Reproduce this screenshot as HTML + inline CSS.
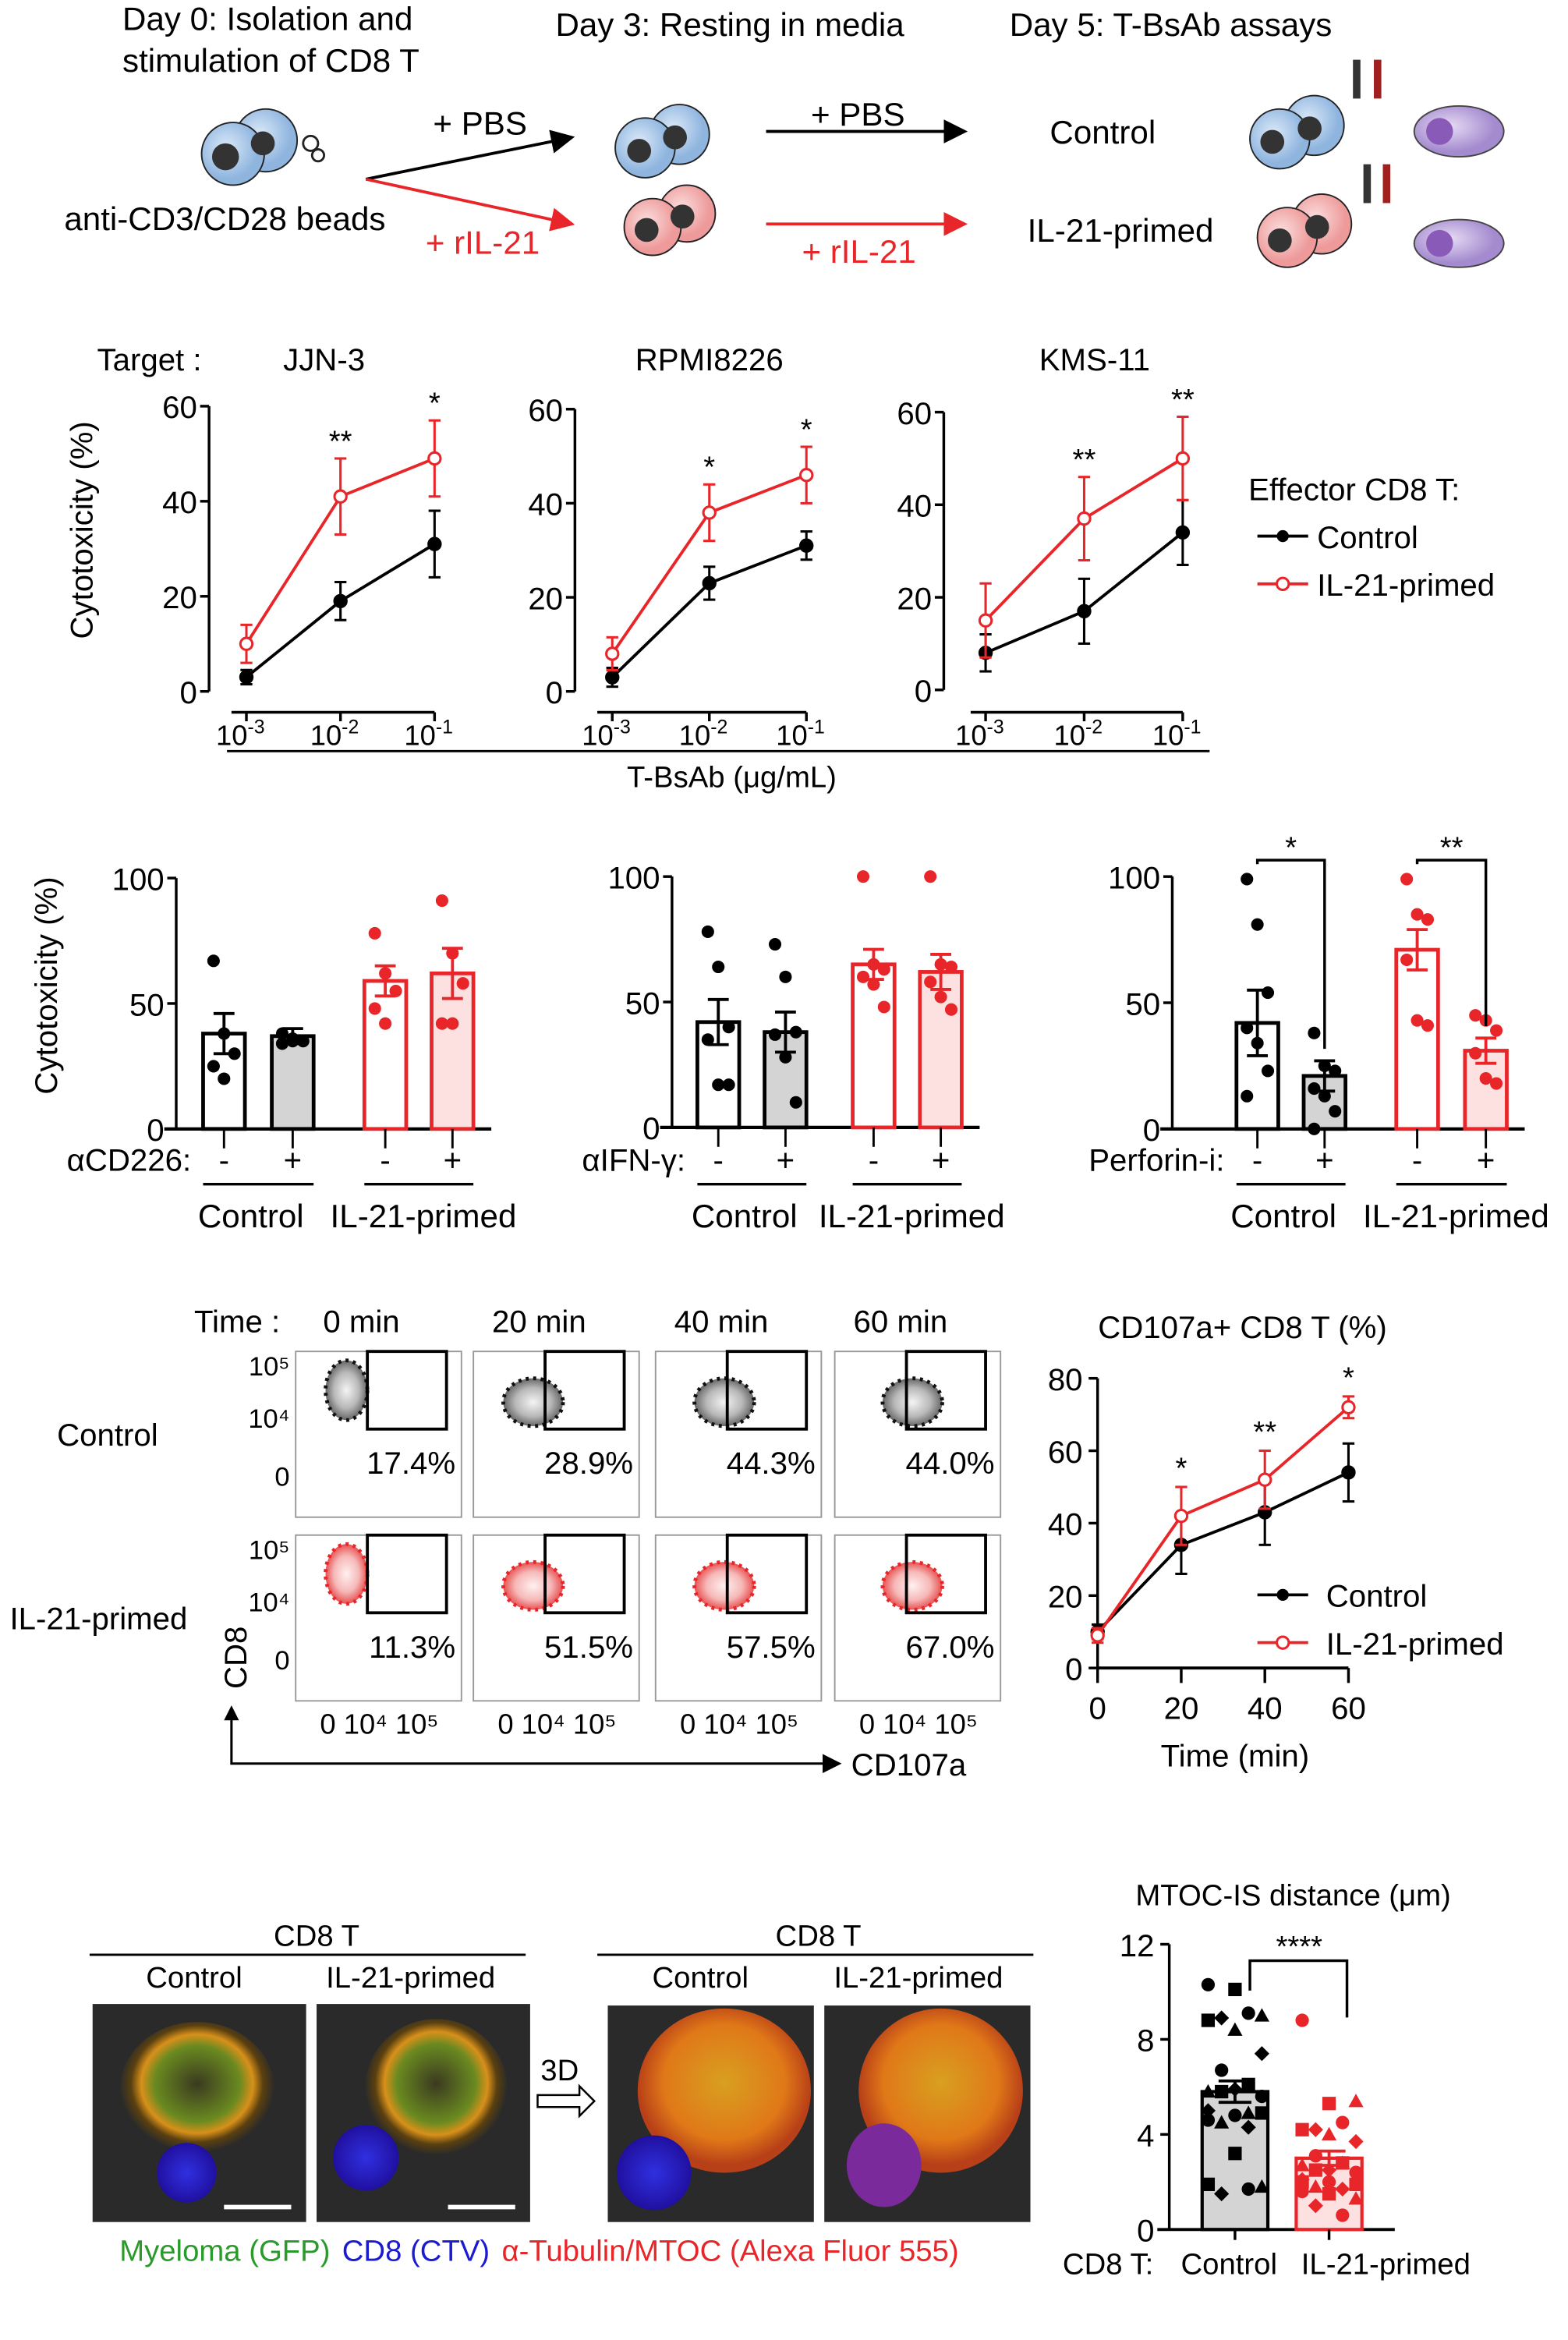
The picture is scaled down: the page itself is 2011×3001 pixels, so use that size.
<!DOCTYPE html>
<html><head><meta charset="utf-8">
<style>
html,body{margin:0;padding:0;background:#fff;}
svg{display:block;font-family:"Liberation Sans",Arial,sans-serif;}
</style></head>
<body>
<svg id="fig" width="2011" height="3001" viewBox="0 0 1050 1567" preserveAspectRatio="none" xmlns="http://www.w3.org/2000/svg">
<defs>
<marker id="ab" markerWidth="8" markerHeight="8" refX="7" refY="4" orient="auto"><path d="M0,0 L8,4 L0,8 z" fill="#000"/></marker>
<marker id="ar" markerWidth="8" markerHeight="8" refX="7" refY="4" orient="auto"><path d="M0,0 L8,4 L0,8 z" fill="#e8262a"/></marker>
<radialGradient id="cellB" cx="40%" cy="40%"><stop offset="0" stop-color="#dbe9f8"/><stop offset="1" stop-color="#8fb5df"/></radialGradient>
<radialGradient id="cellR" cx="40%" cy="40%"><stop offset="0" stop-color="#fbdede"/><stop offset="1" stop-color="#ee9a9a"/></radialGradient>
<radialGradient id="cellP" cx="40%" cy="40%"><stop offset="0" stop-color="#e6daf3"/><stop offset="1" stop-color="#a48bcf"/></radialGradient>
<radialGradient id="flowK" cx="50%" cy="50%"><stop offset="0" stop-color="#f4f4f4"/><stop offset="0.6" stop-color="#b8b8b8"/><stop offset="1" stop-color="#666"/></radialGradient>
<radialGradient id="flowR" cx="50%" cy="50%"><stop offset="0" stop-color="#fff0f0"/><stop offset="0.6" stop-color="#f6b8b8"/><stop offset="1" stop-color="#e85050"/></radialGradient>
<radialGradient id="cellImg" cx="50%" cy="45%"><stop offset="0" stop-color="#3a3a20"/><stop offset="0.55" stop-color="#6a8a20"/><stop offset="0.72" stop-color="#d8901a"/><stop offset="0.85" stop-color="#5a4010"/><stop offset="1" stop-color="#2a2a2a"/></radialGradient>
<radialGradient id="cell3d" cx="50%" cy="45%"><stop offset="0" stop-color="#d8a020"/><stop offset="0.7" stop-color="#e07818"/><stop offset="1" stop-color="#b84018"/></radialGradient>
<radialGradient id="blue" cx="50%" cy="50%"><stop offset="0" stop-color="#3030e0"/><stop offset="1" stop-color="#2010a0"/></radialGradient>
</defs>

<g id="schematic" font-size="22">
<text x="82" y="20">Day 0: Isolation and</text>
<text x="82" y="48">stimulation of CD8 T</text>
<text x="372" y="24">Day 3: Resting in media</text>
<text x="676" y="24">Day 5: T-BsAb assays</text>
<text x="43" y="154">anti-CD3/CD28 beads</text>
<g>
<circle cx="178" cy="94" r="21" fill="url(#cellB)" stroke="#222"/><circle cx="156" cy="103" r="21" fill="url(#cellB)" stroke="#222"/>
<circle cx="151" cy="105" r="9" fill="#333"/><circle cx="176" cy="96" r="8" fill="#333"/>
<circle cx="208" cy="96" r="5" fill="#fff" stroke="#222" stroke-width="1.5"/><circle cx="213" cy="104" r="4" fill="#fff" stroke="#222" stroke-width="1.5"/>
</g>
<line x1="245" y1="120" x2="383" y2="92" stroke="#000" stroke-width="2" marker-end="url(#ab)"/>
<line x1="245" y1="120" x2="383" y2="150" stroke="#e8262a" stroke-width="2" marker-end="url(#ar)"/>
<text x="290" y="90">+ PBS</text>
<text x="285" y="170" fill="#e8262a">+ rIL-21</text>
<g>
<circle cx="455" cy="90" r="20" fill="url(#cellB)" stroke="#222"/><circle cx="432" cy="99" r="20" fill="url(#cellB)" stroke="#222"/>
<circle cx="428" cy="101" r="8" fill="#333"/><circle cx="452" cy="92" r="8" fill="#333"/>
</g>
<g>
<circle cx="460" cy="143" r="19" fill="url(#cellR)" stroke="#222"/><circle cx="437" cy="152" r="19" fill="url(#cellR)" stroke="#222"/>
<circle cx="433" cy="154" r="8" fill="#333"/><circle cx="457" cy="145" r="8" fill="#333"/>
</g>
<line x1="513" y1="88" x2="646" y2="88" stroke="#000" stroke-width="2" marker-end="url(#ab)"/>
<line x1="513" y1="150" x2="646" y2="150" stroke="#e8262a" stroke-width="2" marker-end="url(#ar)"/>
<text x="543" y="84">+ PBS</text>
<text x="537" y="176" fill="#e8262a">+ rIL-21</text>
<text x="703" y="96">Control</text>
<text x="688" y="162">IL-21-primed</text>
<g>
<circle cx="880" cy="84" r="20" fill="url(#cellB)" stroke="#222"/><circle cx="857" cy="93" r="20" fill="url(#cellB)" stroke="#222"/>
<circle cx="852" cy="95" r="8" fill="#333"/><circle cx="877" cy="86" r="8" fill="#333"/>
<rect x="906" y="40" width="5" height="26" fill="#333"/><rect x="920" y="40" width="5" height="26" fill="#a02020"/>
<ellipse cx="977" cy="88" rx="30" ry="17" fill="url(#cellP)" stroke="#444"/><circle cx="964" cy="88" r="9" fill="#8a5ab8"/>
</g>
<g>
<circle cx="885" cy="150" r="20" fill="url(#cellR)" stroke="#222"/><circle cx="862" cy="159" r="20" fill="url(#cellR)" stroke="#222"/>
<circle cx="857" cy="161" r="8" fill="#333"/><circle cx="882" cy="152" r="8" fill="#333"/>
<rect x="913" y="110" width="5" height="26" fill="#333"/><rect x="926" y="110" width="5" height="26" fill="#a02020"/>
<ellipse cx="977" cy="163" rx="30" ry="16" fill="url(#cellP)" stroke="#444"/><circle cx="964" cy="163" r="9" fill="#8a5ab8"/>
</g>
</g>

<g id="lines"></g>
<g id="bars"></g>
<g id="flow"></g>
<g id="cd107"></g>

<g font-size="20">
<text x="212" y="1303" text-anchor="middle">CD8 T</text>
<line x1="60" y1="1309" x2="352" y2="1309" stroke="#000" stroke-width="1.5"/>
<text x="130" y="1331" text-anchor="middle">Control</text>
<text x="275" y="1331" text-anchor="middle">IL-21-primed</text>
<text x="548" y="1303" text-anchor="middle">CD8 T</text>
<line x1="400" y1="1309" x2="692" y2="1309" stroke="#000" stroke-width="1.5"/>
<text x="469" y="1331" text-anchor="middle">Control</text>
<text x="615" y="1331" text-anchor="middle">IL-21-primed</text>
<g><rect x="62" y="1342" width="143" height="146" fill="#2a2a2a"/><ellipse cx="132" cy="1400" rx="52" ry="46" fill="url(#cellImg)"/><circle cx="125" cy="1455" r="20" fill="url(#blue)"/><line x1="150" y1="1478" x2="195" y2="1478" stroke="#fff" stroke-width="3"/></g>
<g><rect x="212" y="1342" width="143" height="146" fill="#2a2a2a"/><ellipse cx="292" cy="1400" rx="48" ry="48" fill="url(#cellImg)"/><circle cx="245" cy="1445" r="22" fill="url(#blue)"/><line x1="300" y1="1478" x2="345" y2="1478" stroke="#fff" stroke-width="3"/></g>
<text x="362" y="1393">3D</text>
<path d="M360,1403 h28 v-6 l10,10 l-10,10 v-6 h-28 z" fill="#fff" stroke="#000" stroke-width="1.3"/>
<g><rect x="407" y="1343" width="138" height="145" fill="#2a2a2a"/><ellipse cx="485" cy="1400" rx="58" ry="55" fill="url(#cell3d)"/><circle cx="438" cy="1455" r="25" fill="url(#blue)"/></g>
<g><rect x="552" y="1343" width="138" height="145" fill="#2a2a2a"/><ellipse cx="630" cy="1400" rx="55" ry="55" fill="url(#cell3d)"/><ellipse cx="592" cy="1450" rx="25" ry="28" fill="#7a2a9a"/></g>
<text y="1514" font-size="20"><tspan x="80" fill="#2a9a2a">Myeloma (GFP)</tspan><tspan dx="8" fill="#1a1ad0">CD8 (CTV)</tspan><tspan dx="8" fill="#e8262a">α-Tubulin/MTOC (Alexa Fluor 555)</tspan></text>
</g>
<g id="mtoc"></g>
</svg>

<script>
const NS="http://www.w3.org/2000/svg";
function mk(parent,tag,attrs,text){const e=document.createElementNS(NS,tag);for(const k in attrs)e.setAttribute(k,attrs[k]);if(text!==undefined)e.textContent=text;parent.appendChild(e);return e;}
const RED="#e8262a";

const doseLabels=["-3","-2","-1"];
const targets=["JJN-3","RPMI8226","KMS-11"];
const ctrlMean=[[3,19,31],[3,23,31],[8,17,34]];
const ctrlErr=[[1.5,4,7],[2,3.5,3],[4,7,7]];
const il21Mean=[[10,41,49],[8,38,46],[15,37,50]];
const il21Err=[[4,8,8],[3.5,6,6],[8,9,9]];
const lineStars=[["","**","*"],["","*","*"],["","**","**"]];
const lineYTicks=[0,20,40,60];

const L=document.getElementById("lines");
const panelAxisX=[140,385,632];
const panelX0=[165,410,660];
const panelDX=[63,65,66];
const panelY0=[463,463,462];
const panelY60=[272,274,276];
mk(L,"text",{x:65,y:248,"font-size":21,},"Target :");
for(let p=0;p<3;p++){
  const g=mk(L,"g",{});
  
  
  const ys=v=>panelY0[p]-(panelY0[p]-panelY60[p])*v/60;
  const xs=i=>panelX0[p]+panelDX[p]*i;
  const ax=panelAxisX[p];
  const t=mk(g,"text",{x:[217,475,733][p],y:248,"font-size":21,"text-anchor":"middle"},targets[p]);
  
  
  mk(g,"line",{x1:ax,y1:ys(0),x2:ax,y2:ys(60),stroke:"#000","stroke-width":1.8});
  lineYTicks.forEach(v=>{
    mk(g,"line",{x1:ax-6,y1:ys(v),x2:ax,y2:ys(v),stroke:"#000","stroke-width":1.8});
    const tl=mk(g,"text",{x:ax-8,y:ys(v)+8,"font-size":21,"text-anchor":"end"},v);
    
    
  });
  const axY=477;
  mk(g,"line",{x1:xs(0)-10,y1:axY,x2:xs(2),y2:axY,stroke:"#000","stroke-width":1.8});
  doseLabels.forEach((d,i)=>{
    mk(g,"line",{x1:xs(i),y1:axY,x2:xs(i),y2:axY+6,stroke:"#000","stroke-width":1.8});
    const tl=mk(g,"text",{x:xs(i)-4,y:axY+22,"font-size":19,"text-anchor":"middle"});
    mk(tl,"tspan",{},"10");mk(tl,"tspan",{dy:-8,"font-size":13},d);
    
    
  });
  [[ctrlMean[p],ctrlErr[p],"#000",true,"control"],[il21Mean[p],il21Err[p],RED,false,"il21-primed"]].forEach(([m,e,c,filled,nm])=>{
    const s=mk(g,"g",{});
    
    
    mk(s,"polyline",{points:m.map((v,i)=>xs(i)+","+ys(v)).join(" "),fill:"none",stroke:c,"stroke-width":2});
    m.forEach((v,i)=>{
      mk(s,"line",{x1:xs(i),y1:ys(v-e[i]),x2:xs(i),y2:ys(v+e[i]),stroke:c,"stroke-width":1.6});
      mk(s,"line",{x1:xs(i)-4,y1:ys(v+e[i]),x2:xs(i)+4,y2:ys(v+e[i]),stroke:c,"stroke-width":1.6});
      mk(s,"line",{x1:xs(i)-4,y1:ys(v-e[i]),x2:xs(i)+4,y2:ys(v-e[i]),stroke:c,"stroke-width":1.6});
      const pt=mk(s,"circle",{cx:xs(i),cy:ys(v),r:4,fill:filled?c:"#fff",stroke:c,"stroke-width":1.6});
      
      
    });
  });
  lineStars[p].forEach((st,i)=>{ if(st){const v=il21Mean[p][i]+il21Err[p][i];
    const sl=mk(g,"text",{x:xs(i),y:ys(v)-5,"font-size":20,"text-anchor":"middle"},st);
    
    }});
}
mk(L,"text",{x:62,y:355,"font-size":21,"text-anchor":"middle",transform:"rotate(-90 62 355)",},"Cytotoxicity (%)");
mk(L,"line",{x1:152,y1:503,x2:810,y2:503,stroke:"#000","stroke-width":1.5});
mk(L,"text",{x:490,y:527,"font-size":20,"text-anchor":"middle",},"T-BsAb (μg/mL)");
mk(L,"text",{x:836,y:335,"font-size":21,},"Effector CD8 T:");
mk(L,"line",{x1:842,y1:359,x2:876,y2:359,stroke:"#000","stroke-width":2});
mk(L,"circle",{cx:859,cy:359,r:4,fill:"#000"});
mk(L,"text",{x:882,y:367,"font-size":21,},"Control");
mk(L,"line",{x1:842,y1:391,x2:876,y2:391,stroke:RED,"stroke-width":2});
mk(L,"circle",{cx:859,cy:391,r:4,fill:"#fff",stroke:RED,"stroke-width":1.6});
mk(L,"text",{x:882,y:399,"font-size":21,},"IL-21-primed");

const barTreatments=["αCD226:","αIFN-γ:","Perforin-i:"];
const barMeans=[[38,37,59,62],[42,38,65,62],[42,21,71,31]];
const barErrs=[[8,3,6,10],[9,8,6,7],[13,6,8,5]];
const barPoints=[
 [[67,38,30,25,20],[38,36,35,34,35],[78,62,55,48,42],[91,70,58,42,42]],
 [[78,64,40,35,17,17],[73,60,38,37,28,10],[100,65,63,60,57,48],[100,65,64,58,52,47]],
 [[99,81,54,40,34,23,13],[38,25,23,16,13,7,0],[99,85,83,67,43,41],[45,43,39,30,20,18]]];
const barSig=[null,null,["*","**"]];
const barYTicks=[0,50,100];

const B=document.getElementById("bars");
const bAxisX=[118,450,785];
const bY0=[756,755,756];
const bY100=[588,587,587];
const bBarX=[[150,196,258,303],[481,526,585,630],[842,887,949,995]];
const bw=28;
mk(B,"text",{x:38,y:660,"font-size":21,"text-anchor":"middle",transform:"rotate(-90 38 660)",},"Cytotoxicity (%)");
for(let p=0;p<3;p++){
  const g=mk(B,"g",{});
  
  
  const ys=v=>bY0[p]-(bY0[p]-bY100[p])*v/100;
  const ax=bAxisX[p];
  mk(g,"line",{x1:ax,y1:ys(0),x2:ax,y2:ys(100),stroke:"#000","stroke-width":1.8});
  mk(g,"line",{x1:ax-8,y1:ys(0),x2:bBarX[p][3]+bw/2+12,y2:ys(0),stroke:"#000","stroke-width":2.2});
  barYTicks.forEach(v=>{
    mk(g,"line",{x1:ax-6,y1:ys(v),x2:ax,y2:ys(v),stroke:"#000","stroke-width":1.8});
    const tl=mk(g,"text",{x:ax-8,y:ys(v)+8,"font-size":21,"text-anchor":"end"},v);
    
    
  });
  for(let i=0;i<4;i++){
    const x=bBarX[p][i];const red=i>=2;const c=red?RED:"#000";
    const fill=i==0?"#fff":i==1?"#d4d4d4":i==2?"#fff":"#fde0e0";
    const v=barMeans[p][i],e=barErrs[p][i];
    const r=mk(g,"rect",{x:x-bw/2,y:ys(v),width:bw,height:ys(0)-ys(v),fill:fill,stroke:c,"stroke-width":2.5});
    
    
    mk(g,"line",{x1:x,y1:ys(v-e),x2:x,y2:ys(v+e),stroke:c,"stroke-width":2});
    mk(g,"line",{x1:x-7,y1:ys(v+e),x2:x+7,y2:ys(v+e),stroke:c,"stroke-width":2});
    mk(g,"line",{x1:x-7,y1:ys(v-e),x2:x+7,y2:ys(v-e),stroke:c,"stroke-width":2});
    barPoints[p][i].forEach((pv,k)=>{
      const d=mk(g,"circle",{cx:x+((k%3)-1)*7,cy:ys(pv),r:4.2,fill:c});
      
      
    });
    mk(g,"line",{x1:x,y1:ys(0),x2:x,y2:ys(0)+13,stroke:"#000","stroke-width":1.5});
    mk(g,"text",{x:x,y:784,"font-size":21,"text-anchor":"middle"},i%2==0?"-":"+");
  }
  const tr=mk(g,"text",{x:bBarX[p][0]-22,y:784,"font-size":21,"text-anchor":"end"},barTreatments[p]);
  
  
  mk(g,"line",{x1:bBarX[p][0]-14,y1:793,x2:bBarX[p][1]+14,y2:793,stroke:"#000","stroke-width":1.8});
  mk(g,"line",{x1:bBarX[p][2]-14,y1:793,x2:bBarX[p][3]+14,y2:793,stroke:"#000","stroke-width":1.8});
  mk(g,"text",{x:(bBarX[p][0]+bBarX[p][1])/2-5,y:822,"font-size":22,"text-anchor":"middle"},"Control");
  mk(g,"text",{x:(bBarX[p][2]+bBarX[p][3])/2+3,y:822,"font-size":22,"text-anchor":"middle"},"IL-21-primed");
  if(barSig[p]){
    [[0,1],[2,3]].forEach(([a,b],j)=>{
      const x1=bBarX[p][a],x2=bBarX[p][b],yt=576;
      mk(g,"polyline",{points:`${x1},${ys(barPoints[p][a][0])-10} ${x1},${yt} ${x2},${yt} ${x2},${ys(barMeans[p][b]+barErrs[p][b])-8}`,fill:"none",stroke:"#000","stroke-width":1.8});
      const s=mk(g,"text",{x:(x1+x2)/2,y:yt-2,"font-size":20,"text-anchor":"middle"},barSig[p][j]);
      
      
    });
  }
}

const timeLabels=["0 min","20 min","40 min","60 min"];
const ctrlPct=["17.4%","28.9%","44.3%","44.0%"];
const il21Pct=["11.3%","51.5%","57.5%","67.0%"];
const F=document.getElementById("flow");
const colX=[198,317,439,559];const fw=111;
const rowY=[905,1028];const fh=111;
mk(F,"text",{x:130,y:892,"font-size":21,},"Time :");
timeLabels.forEach((t,i)=>{const e=mk(F,"text",{x:colX[i]+44,y:892,"font-size":21,"text-anchor":"middle"},t);
 });
mk(F,"text",{x:72,y:968,"font-size":21,"text-anchor":"middle",},"Control");
mk(F,"text",{x:66,y:1091,"font-size":21,"text-anchor":"middle",},"IL-21-primed");
[ctrlPct,il21Pct].forEach((pcts,r)=>{
  const y=rowY[r];
  mk(F,"text",{x:194,y:y+16,"font-size":18,"text-anchor":"end"},"10⁵");
  mk(F,"text",{x:194,y:y+51,"font-size":18,"text-anchor":"end"},"10⁴");
  mk(F,"text",{x:194,y:y+90,"font-size":18,"text-anchor":"end"},"0");
  pcts.forEach((pc,i)=>{
    const x=colX[i];
    const g=mk(F,"g",{});
    
    
    mk(g,"rect",{x:x,y:y,width:fw,height:fh,fill:"#fff",stroke:"#999","stroke-width":1});
    const cx=x+34+i*6, cy=y+(i==0?26:34);
    mk(g,"ellipse",{cx:cx,cy:cy,rx:i==0?14:20,ry:i==0?20:16,fill:r?"url(#flowR)":"url(#flowK)",stroke:r?RED:"#111","stroke-width":2.5,"stroke-dasharray":"2 3"});
    mk(g,"rect",{x:x+48,y:y,width:53,height:52,fill:"none",stroke:"#000","stroke-width":2});
    const tp=mk(g,"text",{x:x+fw-4,y:y+82,"font-size":21,"text-anchor":"end"},pc);
    
    
    if(r==1){mk(g,"text",{x:x+56,y:y+133,"font-size":19,"text-anchor":"middle"},"0 10⁴ 10⁵");}
  });
});
mk(F,"text",{x:165,y:1110,"font-size":21,"text-anchor":"middle",transform:"rotate(-90 165 1110)",},"CD8");
mk(F,"polyline",{points:"155,1150 155,1181 562,1181",fill:"none",stroke:"#000","stroke-width":1.6,"marker-end":"url(#ab)"});
mk(F,"path",{d:"M150,1152 L155,1142 L160,1152 z",fill:"#000"});
mk(F,"text",{x:570,y:1189,"font-size":21,},"CD107a");

const timePts=[0,20,40,60];
const cdCtrl=[10,34,43,54];
const cdCtrlErr=[2,8,9,8];
const cdIl21=[9,42,52,72];
const cdIl21Err=[2,8,8,3];
const cdStars=["","*","**","*"];
const cdYTicks=[0,20,40,60,80];
const C=document.getElementById("cd107");
const cx0=735,cdx=56/20,cy0=1117,cy80=923;
const xs=t=>cx0+t*cdx, ys=v=>cy0-(cy0-cy80)*v/80;
mk(C,"text",{x:832,y:896,"font-size":21,"text-anchor":"middle",},"CD107a+ CD8 T  (%)");
mk(C,"line",{x1:cx0,y1:ys(0),x2:cx0,y2:ys(80),stroke:"#000","stroke-width":1.8});
mk(C,"line",{x1:cx0,y1:ys(0),x2:xs(60),y2:ys(0),stroke:"#000","stroke-width":2});
cdYTicks.forEach(v=>{mk(C,"line",{x1:cx0-6,y1:ys(v),x2:cx0,y2:ys(v),stroke:"#000","stroke-width":1.8});
 const t=mk(C,"text",{x:cx0-10,y:ys(v)+8,"font-size":21,"text-anchor":"end"},v);
 });
timePts.forEach(t=>{mk(C,"line",{x1:xs(t),y1:ys(0),x2:xs(t),y2:ys(0)+10,stroke:"#000","stroke-width":1.8});
 const e=mk(C,"text",{x:xs(t),y:1151,"font-size":21,"text-anchor":"middle"},t);
 });
mk(C,"text",{x:827,y:1183,"font-size":21,"text-anchor":"middle",},"Time (min)");
[[cdCtrl,cdCtrlErr,"#000",true],[cdIl21,cdIl21Err,RED,false]].forEach(([m,e,c,f])=>{
  mk(C,"polyline",{points:m.map((v,i)=>xs(timePts[i])+","+ys(v)).join(" "),fill:"none",stroke:c,"stroke-width":2});
  m.forEach((v,i)=>{const x=xs(timePts[i]);
    mk(C,"line",{x1:x,y1:ys(v-e[i]),x2:x,y2:ys(v+e[i]),stroke:c,"stroke-width":1.6});
    mk(C,"line",{x1:x-4,y1:ys(v+e[i]),x2:x+4,y2:ys(v+e[i]),stroke:c,"stroke-width":1.6});
    mk(C,"line",{x1:x-4,y1:ys(v-e[i]),x2:x+4,y2:ys(v-e[i]),stroke:c,"stroke-width":1.6});
    const p=mk(C,"circle",{cx:x,cy:ys(v),r:4,fill:f?c:"#fff",stroke:c,"stroke-width":1.6});
    });
});
cdStars.forEach((s,i)=>{if(s){const t=mk(C,"text",{x:xs(timePts[i]),y:ys(cdIl21[i]+cdIl21Err[i])-6,"font-size":20,"text-anchor":"middle"},s);
 }});
mk(C,"line",{x1:842,y1:1068,x2:876,y2:1068,stroke:"#000","stroke-width":2});
mk(C,"circle",{cx:859,cy:1068,r:4,fill:"#000"});
mk(C,"text",{x:888,y:1076,"font-size":21,},"Control");
mk(C,"line",{x1:842,y1:1100,x2:876,y2:1100,stroke:RED,"stroke-width":2});
mk(C,"circle",{cx:859,cy:1100,r:4,fill:"#fff",stroke:RED,"stroke-width":1.6});
mk(C,"text",{x:888,y:1108,"font-size":21,},"IL-21-primed");

const mtocGroups=["Control","IL-21-primed"];
const mtocMeans=[5.8,3.0];
const mtocErrs=[0.45,0.3];
const mtocCtrlPts=[10.3,10.1,9.0,8.9,9.1,8.8,8.4,7.4,6.7,6.1,5.8,5.9,5.6,5.8,4.9,5.0,4.8,4.9,4.5,4.3,4.6,3.2,1.8,1.5,1.7,1.9];
const mtocIl21Pts=[8.8,5.3,5.4,4.2,4.5,4.2,4.0,3.7,3.1,2.8,2.7,2.5,2.4,2.5,2.8,2.1,2.0,1.9,1.8,1.7,1.6,1.5,1.3,1.0,0.6,2.0];
const mtocYTicks=[0,4,8,12];
const M=document.getElementById("mtoc");
const mx=783,my0=1493,my12=1302;
const mys=v=>my0-(my0-my12)*v/12;
const mBarX=[827,890];const mbw=44;
mk(M,"text",{x:866,y:1276,"font-size":20,"text-anchor":"middle",},"MTOC-IS distance (μm)");
mk(M,"line",{x1:mx,y1:mys(0),x2:mx,y2:mys(12),stroke:"#000","stroke-width":1.8});
mk(M,"line",{x1:mx-8,y1:mys(0),x2:934,y2:mys(0),stroke:"#000","stroke-width":2});
mtocYTicks.forEach(v=>{mk(M,"line",{x1:mx-6,y1:mys(v),x2:mx,y2:mys(v),stroke:"#000","stroke-width":1.8});
 const t=mk(M,"text",{x:mx-10,y:mys(v)+8,"font-size":21,"text-anchor":"end"},v);
 });
[[mtocCtrlPts,"#000","#d4d4d4"],[mtocIl21Pts,RED,"#fde0e0"]].forEach(([pts,c,fill],i)=>{
  const x=mBarX[i],v=mtocMeans[i],e=mtocErrs[i];
  const r=mk(M,"rect",{x:x-mbw/2,y:mys(v),width:mbw,height:mys(0)-mys(v),fill:fill,stroke:c,"stroke-width":2.2});
  
  pts.forEach((pv,k)=>{const px=x+((k*7)%5-2)*9;const py=mys(pv);
    let el;
    if(k%4==0) el=mk(M,"circle",{cx:px,cy:py,r:4.5,fill:c});
    else if(k%4==1) el=mk(M,"rect",{x:px-4.5,y:py-4.5,width:9,height:9,fill:c});
    else if(k%4==2) el=mk(M,"polygon",{points:`${px},${py-5} ${px+5},${py+4} ${px-5},${py+4}`,fill:c});
    else el=mk(M,"polygon",{points:`${px},${py-5} ${px+5},${py} ${px},${py+5} ${px-5},${py}`,fill:c});
    });
  mk(M,"line",{x1:x,y1:mys(v-e),x2:x,y2:mys(v+e),stroke:c,"stroke-width":2});
  mk(M,"line",{x1:x-11,y1:mys(v+e),x2:x+11,y2:mys(v+e),stroke:c,"stroke-width":2});
  mk(M,"line",{x1:x-11,y1:mys(v-e),x2:x+11,y2:mys(v-e),stroke:c,"stroke-width":2});
  mk(M,"line",{x1:x,y1:mys(0),x2:x,y2:mys(0)+7,stroke:"#000","stroke-width":1.8});
  const t=mk(M,"text",{x:i?928:823,y:1523,"font-size":20,"text-anchor":"middle"},mtocGroups[i]);
  
});
mk(M,"text",{x:742,y:1523,"font-size":20,"text-anchor":"middle",},"CD8 T:");
mk(M,"polyline",{points:`${mBarX[0]+10},1333 ${mBarX[0]+10},1313 ${mBarX[1]+12},1313 ${mBarX[1]+12},1351`,fill:"none",stroke:"#000","stroke-width":1.8});
mk(M,"text",{x:870,y:1310,"font-size":20,"text-anchor":"middle",},"****");
</script>
</body></html>
